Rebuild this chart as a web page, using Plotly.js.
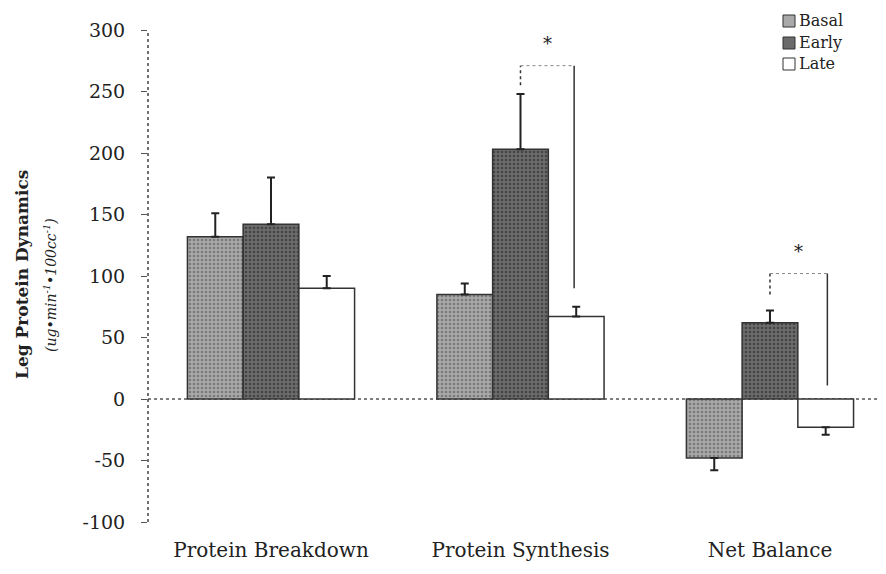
<!DOCTYPE html>
<html>
<head>
<meta charset="utf-8">
<script src="https://cdn.plot.ly/plotly-3.0.1.min.js"></script>
<style>html,body{margin:0;padding:0;background:#fff;}#chart{width:886px;height:574px;}</style>
</head>
<body>
<div id="chart"></div>
<script>
const categories = ["Protein Breakdown", "Protein Synthesis", "Net Balance"];
const seriesNames = ["Basal", "Early", "Late"];
const basal = [132, 85, -48];
const early = [142, 203, 62];
const late = [90, 67, -23];
const basalErr = [19, 9, 10];
const earlyErr = [38, 45, 10];
const lateErr = [10, 8, 6];
const yTickVals = [-100, -50, 0, 50, 100, 150, 200, 250, 300];
const yTickText = ["-100", "-50", "0", "50", "100", "150", "200", "250", "300"];
// significance brackets: [left category pos, right category pos, top value, left bottom, right bottom]
const bracketPS = [1, 1.215, 271, 255, 90];
const bracketNB = [2, 2.23, 102, 85, 11];

const FONT = "DejaVu Serif, Liberation Serif, serif";
const PL = 148, PR = 6, PT = 30, PB = 52, W = 886, H = 574;
const PW = W - PL - PR, PH = H - PT - PB;
const px2x = p => (p - PL) / PW;
const px2y = p => (H - PB - p) / PH;

function errFor(vals, errs) {
  return {
    type: 'data', symmetric: false,
    array: vals.map((v, i) => v >= 0 ? errs[i] : 0),
    arrayminus: vals.map((v, i) => v < 0 ? errs[i] : 0),
    color: '#222', thickness: 2, width: 4
  };
}

const colors = ['#a9a9a9', '#6b6b6b', '#ffffff'];
const patFg = ['#7a7a7a', '#444444', '#ffffff'];
const vals = [basal, early, late];
const errs = [basalErr, earlyErr, lateErr];

const traces = seriesNames.map((name, k) => ({
  type: 'bar', name: name, x: categories, y: vals[k], showlegend: false,
  marker: {
    color: colors[k],
    line: {color: '#333', width: 1.5},
    pattern: k < 2 ? {shape: '.', fgcolor: patFg[k], bgcolor: colors[k], size: 4, solidity: 0.35} : undefined
  },
  error_y: errFor(vals[k], errs[k])
}));

function bracketShapes(b) {
  return [
    {type: 'line', xref: 'x', yref: 'y', x0: b[0], x1: b[0], y0: b[3], y1: b[2], line: {color: '#333', width: 1.5, dash: 'dot'}},
    {type: 'line', xref: 'x', yref: 'y', x0: b[0], x1: b[1], y0: b[2], y1: b[2], line: {color: '#888', width: 1, dash: 'dot'}},
    {type: 'line', xref: 'x', yref: 'y', x0: b[1], x1: b[1], y0: b[2], y1: b[4], line: {color: '#333', width: 1.5}}
  ];
}

// custom legend (squares + labels) built from seriesNames/colors
const legendShapes = [], legendAnn = [];
const legTop = [15, 37, 58];
seriesNames.forEach((name, k) => {
  legendShapes.push({type: 'rect', xref: 'paper', yref: 'paper',
    x0: px2x(783), x1: px2x(795), y0: px2y(legTop[k] + 12), y1: px2y(legTop[k]),
    fillcolor: colors[k], line: {color: '#333', width: 1}});
  legendAnn.push({xref: 'paper', yref: 'paper', x: px2x(797), y: px2y(legTop[k] + 6),
    xanchor: 'left', yanchor: 'middle', showarrow: false, text: name,
    font: {family: FONT, size: 16, color: '#222'}});
});

const layout = {
  width: W, height: H,
  margin: {l: PL, r: PR, t: PT, b: PB},
  paper_bgcolor: '#fff', plot_bgcolor: '#fff',
  font: {family: FONT, color: '#222', size: 18},
  barmode: 'group', bargap: 0.33, bargroupgap: 0,
  showlegend: false,
  xaxis: {
    type: 'category', range: [-0.493, 2.441], showgrid: false, zeroline: false,
    showline: false, ticks: '', tickfont: {family: FONT, size: 20, color: '#222'},
    ticklabelstandoff: 14
  },
  yaxis: {
    range: [-100, 300], tickvals: yTickVals, ticktext: yTickText, showgrid: false,
    zeroline: false, showline: false,
    ticks: 'outside', ticklen: 6, tickcolor: '#555', tickwidth: 1,
    ticklabelstandoff: 12,
    tickfont: {family: FONT, size: 19, color: '#222'}
  },
  shapes: [
    {type: 'line', xref: 'paper', yref: 'y', x0: 0, x1: 1, y0: 0, y1: 0, line: {color: '#555', width: 1.5, dash: 'dot'}, layer: 'below'},
    {type: 'line', xref: 'paper', yref: 'paper', x0: 0, x1: 0, y0: 0, y1: 1, line: {color: '#444', width: 1.5, dash: 'dot'}},
    ...bracketShapes(bracketPS), ...bracketShapes(bracketNB), ...legendShapes],
  annotations: [
    {xref: 'x', yref: 'y', x: (bracketPS[0] + bracketPS[1]) / 2, y: bracketPS[2] + 8, text: '*', showarrow: false, yanchor: 'bottom', font: {family: FONT, size: 18, color: '#222'}},
    {xref: 'x', yref: 'y', x: (bracketNB[0] + bracketNB[1]) / 2, y: bracketNB[2] + 8, text: '*', showarrow: false, yanchor: 'bottom', font: {family: FONT, size: 18, color: '#222'}},
    {xref: 'paper', yref: 'paper', x: px2x(22), xanchor: 'center', y: px2y(275), yanchor: 'middle', textangle: -90, showarrow: false,
     text: '<b>Leg Protein Dynamics</b>', font: {family: FONT, size: 17, color: '#222'}},
    {xref: 'paper', yref: 'paper', x: px2x(50), xanchor: 'center', y: px2y(285), yanchor: 'middle', textangle: -90, showarrow: false,
     text: '<i>(ug•min<sup>-1</sup>•100cc<sup>-1</sup>)</i>', font: {family: FONT, size: 14, color: '#222'}},
    ...legendAnn
  ]
};

Plotly.newPlot('chart', traces, layout, {displayModeBar: false, staticPlot: true});
</script>
</body>
</html>
